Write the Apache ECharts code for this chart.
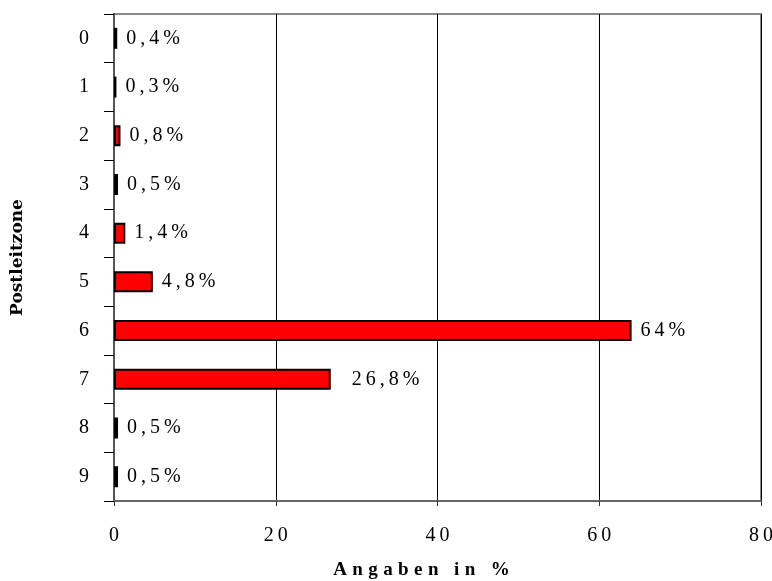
<!DOCTYPE html>
<html>
<head>
<meta charset="utf-8">
<script src="https://cdn.jsdelivr.net/npm/echarts@6/dist/echarts.min.js"></script>
<style>
  html, body { margin: 0; padding: 0; background: #fff; }
  #chart { width: 772px; height: 581px; }
</style>
</head>
<body>
<div id="chart"></div>
<script>
// Postleitzonen (top to bottom) and their shares in percent
const zones = ['0', '1', '2', '3', '4', '5', '6', '7', '8', '9'];
const shares = [0.4, 0.3, 0.8, 0.5, 1.4, 4.8, 64, 26.8, 0.5, 0.5];
const xTicks = [0, 20, 40, 60, 80];

const SERIF = '"Liberation Serif", "DejaVu Serif", serif';
const THIN = '\u2009';
const HAIR = '\u200A';

// spread characters apart for the loose typesetting
function spaced(s, sep) {
  return s.split('').join(sep);
}
function pctText(v) {
  return spaced(String(v).replace('.', ',') + '%', THIN);
}

const chart = echarts.init(document.getElementById('chart'), null, { renderer: 'canvas' });

chart.setOption({
  animation: false,
  backgroundColor: '#ffffff',
  grid: {
    left: 114, right: 11, top: 14, bottom: 80,
    outerBoundsMode: 'none',
    containLabel: false,
    show: true,
    borderColor: '#8a8a8a',
    borderWidth: 2,
    backgroundColor: 'transparent'
  },
  xAxis: {
    type: 'value',
    min: xTicks[0],
    max: xTicks[xTicks.length - 1],
    interval: 20,
    name: spaced('Angaben in %', THIN + HAIR),
    nameLocation: 'middle',
    nameGap: 60,
    nameTextStyle: {
      fontFamily: SERIF, fontWeight: 'bold', fontSize: 19, color: '#000',
      padding: [0, 32, 0, 0]
    },
    axisLine: { show: true, lineStyle: { color: '#666', width: 2 } },
    axisTick: { show: true, length: 5, lineStyle: { color: '#333', width: 1 } },
    axisLabel: {
      fontFamily: SERIF, fontSize: 20, color: '#000', margin: 25,
      formatter: v => spaced(String(v), THIN)
    },
    splitLine: { show: true, lineStyle: { color: '#000', width: 1 } }
  },
  yAxis: {
    type: 'category',
    data: zones,
    inverse: true,
    name: 'Postleitzone',
    nameLocation: 'middle',
    nameGap: 88,
    nameRotate: 90,
    nameTextStyle: {
      fontFamily: '"DejaVu Serif", serif', fontWeight: 'bold', fontSize: 17, color: '#000'
    },
    axisLine: { show: true, lineStyle: { color: '#555', width: 2 } },
    axisTick: { show: true, length: 10, alignWithLabel: false, lineStyle: { color: '#000', width: 1 } },
    axisLabel: { fontFamily: SERIF, fontSize: 20, color: '#000', margin: 25 },
    splitLine: { show: false }
  },
  series: [{
    type: 'bar',
    data: shares.map((v, i) => ({
      value: v,
      label: i === 7 ? { distance: 21 } : undefined
    })),
    barWidth: 21,
    barMinWidth: 1,
    itemStyle: { color: '#ff0000', borderColor: '#000', borderWidth: 2 },
    label: {
      show: true,
      position: 'right',
      distance: 9,
      fontFamily: SERIF,
      fontSize: 20,
      color: '#000',
      formatter: p => pctText(p.value)
    }
  }]
});
</script>
</body>
</html>
